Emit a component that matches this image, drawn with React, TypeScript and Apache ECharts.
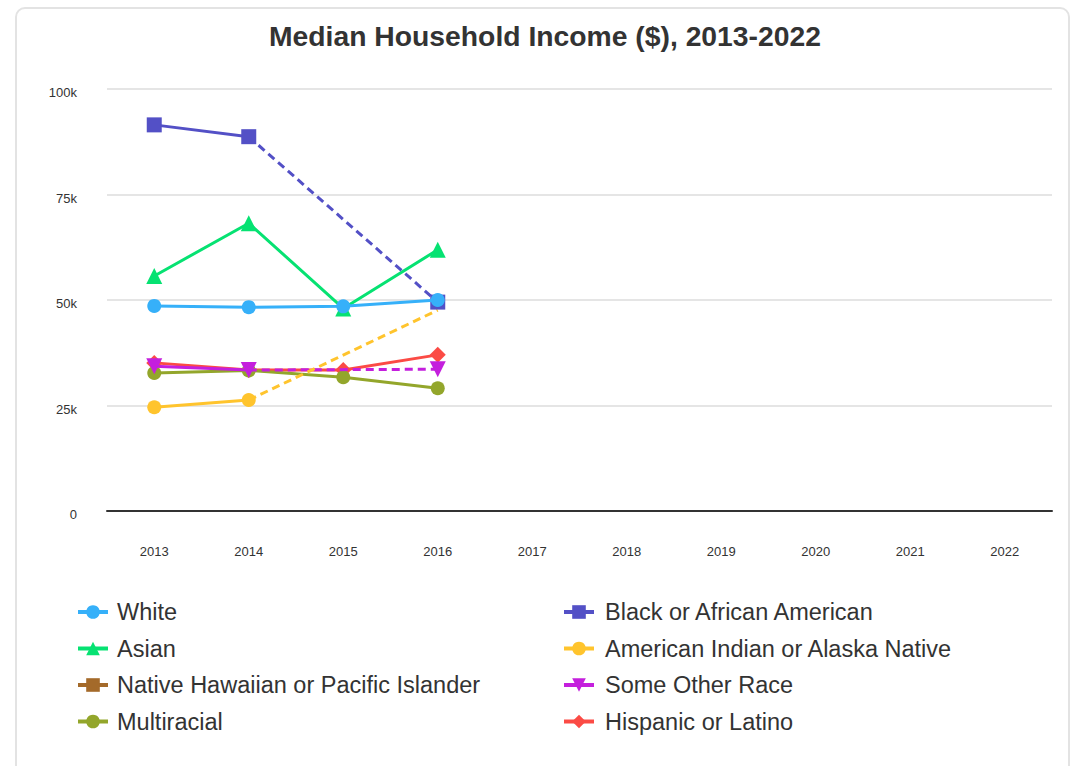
import React, { useEffect, useRef } from "react";
import * as echarts from "echarts";

const years = ["2013", "2014", "2015", "2016", "2017", "2018", "2019", "2020", "2021", "2022"];

const white = [48600, 48300, 48500, 50000, null, null, null, null, null, null];
const black = [91500, 88700, null, 49500, null, null, null, null, null, null];
const asian = [55700, 68200, 48000, 61900, null, null, null, null, null, null];
const aian = [24600, 26300, null, 47600, null, null, null, null, null, null];
const nhpi = [null, null, null, null, null, null, null, null, null, null];
const otherRace = [34300, 33400, null, 33600, null, null, null, null, null, null];
const multiracial = [32700, 33300, 31700, 29100, null, null, null, null, null, null];
const hispanic = [35100, 33400, 33400, 37000, null, null, null, null, null, null];

const yTicks = [0, 25000, 50000, 75000, 100000];

const groups = [
  { name: "White", data: white, color: "#36b0f9", symbol: "circle", size: 14, rotate: 0, hideAt: [] as number[] },
  { name: "Black or African American", data: black, color: "#5350c6", symbol: "rect", size: 15, rotate: 0, hideAt: [] as number[] },
  { name: "Asian", data: asian, color: "#06e272", symbol: "triangle", size: 16, rotate: 0, hideAt: [] as number[] },
  { name: "American Indian or Alaska Native", data: aian, color: "#ffc42d", symbol: "circle", size: 14, rotate: 0, hideAt: [3] },
  { name: "Native Hawaiian or Pacific Islander", data: nhpi, color: "#a46a2a", symbol: "rect", size: 15, rotate: 0, hideAt: [] as number[] },
  { name: "Some Other Race", data: otherRace, color: "#c41fdd", symbol: "triangle", size: 16, rotate: 180, hideAt: [] as number[] },
  { name: "Multiracial", data: multiracial, color: "#93a62b", symbol: "circle", size: 14, rotate: 0, hideAt: [] as number[] },
  { name: "Hispanic or Latino", data: hispanic, color: "#fb4b45", symbol: "diamond", size: 16, rotate: 0, hideAt: [] as number[] },
];

function gapData(values: (number | null)[]) {
  // keep only the endpoints that bound a run of missing values
  const out: (number | null)[] = values.map(() => null);
  let last = -1;
  for (let i = 0; i < values.length; i++) {
    if (values[i] != null) {
      if (last >= 0 && i - last > 1) {
        out[last] = values[last];
        out[i] = values[i];
      }
      last = i;
    }
  }
  return out;
}

const FONT = "Liberation Sans, Arial, sans-serif";

export default function App() {
  const ref = useRef<HTMLDivElement>(null);
  useEffect(() => {
    if (!ref.current) return;
    const chart = echarts.init(ref.current, undefined, { renderer: "svg" });
    const series: any[] = [];
    groups.forEach((g, i) => {
      const z = 20 - i * 2;
      series.push({
        name: g.name,
        type: "line",
        data: g.data.map((v, j) =>
          g.hideAt.includes(j) ? { value: v, symbolSize: 0 } : v
        ),
        connectNulls: false,
        symbol: g.symbol,
        symbolSize: g.size,
        symbolRotate: g.rotate,
        showAllSymbol: true,
        z,
        lineStyle: { color: g.color, width: 3 },
        itemStyle: { color: g.color, borderWidth: 0 },
        emphasis: { disabled: true },
      });
      series.push({
        name: g.name,
        type: "line",
        data: gapData(g.data),
        connectNulls: true,
        symbol: "none",
        z: z - 1,
        lineStyle: { color: g.color, width: 3, type: [8, 5] },
        itemStyle: { color: g.color },
        emphasis: { disabled: true },
      });
    });
    const leftNames = [groups[0].name, groups[2].name, groups[4].name, groups[6].name];
    const rightNames = [groups[1].name, groups[3].name, groups[5].name, groups[7].name];
    const legendCommon = {
      orient: "vertical",
      itemWidth: 30,
      itemHeight: 17,
      itemGap: 12.5,
      selectedMode: false,
      lineStyle: { width: 4 },
    };
    const legendText = (pad: number) => ({
      fontFamily: FONT,
      fontSize: 23.5,
      color: "#333",
      padding: [0, 0, 0, pad],
    });
    chart.setOption({
      animation: false,
      title: {
        text: "Median Household Income ($), 2013-2022",
        left: 264,
        top: 17,
        textStyle: {
          fontFamily: FONT,
          fontSize: 28.3,
          fontWeight: "bold",
          color: "#333",
        },
      },
      legend: [
        { ...legendCommon, data: leftNames, left: 71, top: 595, textStyle: legendText(4) },
        { ...legendCommon, data: rightNames, left: 557, top: 595, textStyle: legendText(6) },
      ],
      grid: { left: 107, right: 21, top: 89, bottom: 255, containLabel: false },
      xAxis: {
        type: "category",
        data: years,
        boundaryGap: true,
        axisLine: { lineStyle: { color: "#333", width: 2 } },
        axisTick: { show: false },
        axisLabel: {
          color: "#333",
          fontSize: 13,
          margin: 34,
          fontFamily: FONT,
        },
      },
      yAxis: {
        type: "value",
        min: yTicks[0],
        max: yTicks[yTicks.length - 1],
        interval: 25000,
        axisLine: { show: false },
        axisTick: { show: false },
        splitLine: { lineStyle: { color: "#e5e5e5", width: 2 } },
        axisLabel: {
          margin: 30,
          formatter: (v: number) => "{v|" + (v === 0 ? "0" : v / 1000 + "k") + "}",
          rich: {
            v: {
              color: "#333",
              fontSize: 13,
              fontFamily: FONT,
              padding: [7, 0, 0, 0],
            },
          },
        },
      },
      series,
    });
    return () => chart.dispose();
  }, []);
  return (
    <div>
      <div
        style={{
          position: "fixed",
          left: 15,
          top: 7,
          width: 1051,
          height: 800,
          border: "2px solid #e3e3e3",
          borderRadius: 10,
          background: "#fff",
        }}
      />
      <div
        ref={ref}
        style={{ position: "fixed", left: 0, top: 0, width: 1073, height: 766 }}
      />
    </div>
  );
}
